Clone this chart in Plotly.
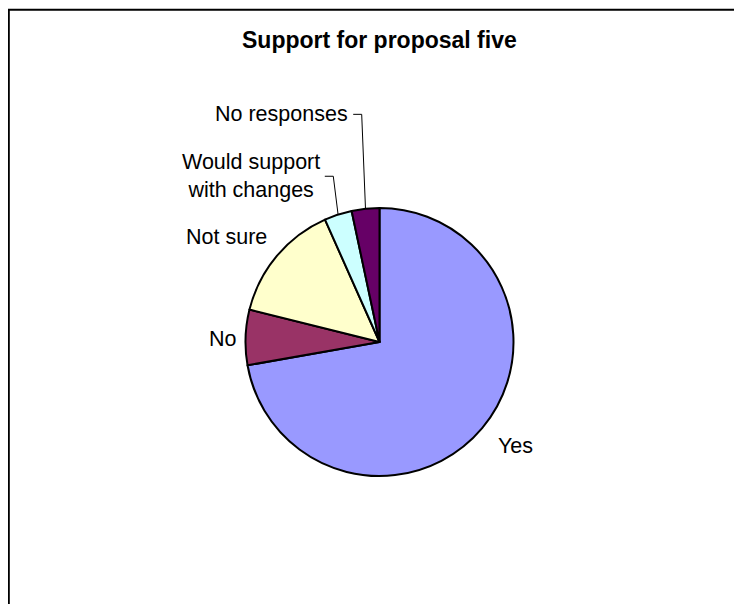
import math
import plotly.graph_objects as go

# ---- data ----
categories = ["Yes", "No", "Not sure", "Would support<br>with changes", "No responses"]
counts = [65, 6, 13, 3, 3]
colors = ["#9999FF", "#993366", "#FFFFCC", "#CCFFFF", "#660066"]
title_text = "Support for proposal five"

# ---- geometry / style (page pixels) ----
PAGE_W, PAGE_H = 742, 604
OFF = 8  # default body margin of the html page
W, H = PAGE_W - OFF, PAGE_H - OFF
CX, CY, R = 379.5, 342.0, 134.0
FONT = "Liberation Sans, Arial, sans-serif"

# label placement relative to the slice's mid-angle point on the rim
# (dx, dy, xanchor, leader)
label_style = [
    (33.4, 17.9, "center", False),
    (-7.0, 1.7, "right", False),
    (-8.0, -19.0, "right", False),
    (-4.8, -38.3, "right", True),
    (-3.8, -94.4, "right", True),
]

def px(x):
    return (x - OFF) / W

def py(y):
    return 1 - (y - OFF) / H

fig = go.Figure()
fig.add_trace(go.Pie(
    labels=categories,
    values=counts,
    sort=False,
    direction="clockwise",
    rotation=0,
    marker=dict(colors=colors, line=dict(color="black", width=2)),
    textinfo="none",
    hoverinfo="label+value+percent",
    showlegend=False,
    domain=dict(x=[px(CX - R), px(CX + R)], y=[py(CY + R), py(CY - R)]),
))

annotations = [dict(
    text="<b>" + title_text + "</b>", x=px(379), y=py(40), xref="paper", yref="paper",
    xanchor="center", yanchor="middle", showarrow=False,
    font=dict(family=FONT, size=23, color="black"),
)]
shapes = []

total = sum(counts)
cum = 0.0
for lab, v, (dx, dy, xa, leader) in zip(categories, counts, label_style):
    mid = (cum + v / 2) / total * 2 * math.pi
    cum += v
    ex = CX + R * math.sin(mid)
    ey = CY - R * math.cos(mid)
    lx, ly = ex + dx, ey + dy
    if leader:
        shapes.append(dict(
            type="path", xref="paper", yref="paper",
            path=f"M {px(lx - 8.5)},{py(ly)} L {px(lx)},{py(ly)} L {px(ex)},{py(ey)}",
            line=dict(color="black", width=1),
        ))
        tx = lx - 11.5
    else:
        tx = lx
    annotations.append(dict(
        text=lab, x=px(tx), y=py(ly), xref="paper", yref="paper",
        xanchor=xa, yanchor="middle", showarrow=False, align="center",
        font=dict(family=FONT, size=21.5, color="black"),
    ))

# chart area border (top and left edges visible)
shapes.append(dict(
    type="path", xref="paper", yref="paper",
    path=f"M {px(8.8)},{py(PAGE_H + 20)} L {px(8.8)},{py(9.8)} L {px(PAGE_W + 20)},{py(9.8)}",
    line=dict(color="black", width=2),
))

fig.update_layout(
    width=W, height=H,
    margin=dict(l=0, r=0, t=0, b=0),
    paper_bgcolor="white", plot_bgcolor="white",
    annotations=annotations, shapes=shapes,
)

fig.write_html("out.html")
